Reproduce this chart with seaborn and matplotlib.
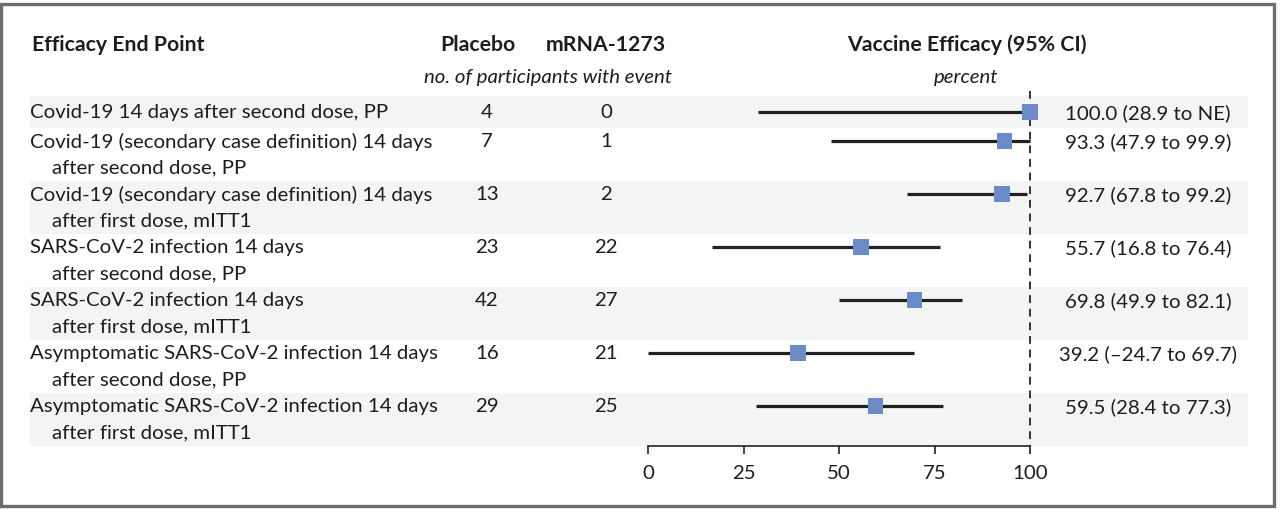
import numpy as np
import pandas as pd
import matplotlib
matplotlib.use("Agg")
import matplotlib.pyplot as plt
import seaborn as sns
from matplotlib.patches import Rectangle

# ---------------- data ----------------
endpoints = [
    "Covid-19 14 days after second dose, PP",
    "Covid-19 (secondary case definition) 14 days\nafter second dose, PP",
    "Covid-19 (secondary case definition) 14 days\nafter first dose, mITT1",
    "SARS-CoV-2 infection 14 days\nafter second dose, PP",
    "SARS-CoV-2 infection 14 days\nafter first dose, mITT1",
    "Asymptomatic SARS-CoV-2 infection 14 days\nafter second dose, PP",
    "Asymptomatic SARS-CoV-2 infection 14 days\nafter first dose, mITT1",
]
placebo_events = [4, 7, 13, 23, 42, 16, 29]
mrna_events = [0, 1, 2, 22, 27, 21, 25]
efficacy = [100.0, 93.3, 92.7, 55.7, 69.8, 39.2, 59.5]
ci_lower = [28.9, 47.9, 67.8, 16.8, 49.9, -24.7, 28.4]
ci_upper = [np.nan, 99.9, 99.2, 76.4, 82.1, 69.7, 77.3]   # NaN = not estimable
x_ticks = [0, 25, 50, 75, 100]

# ---------------- style ----------------
sns.set_style("white")
FONT = ["Lato", "DejaVu Sans"]
plt.rcParams["font.family"] = FONT
TXT = "#1f1c1d"
FS = 14.7
FSB = 15.3

W, H = 1280, 510
fig = plt.figure(figsize=(12.8, 5.1), dpi=100)

X0_PX, X100_PX = 648, 1030
AX_BOTTOM_PX = 447
ppu = (X100_PX - X0_PX) / 100.0
ax = fig.add_axes([0, (H - AX_BOTTOM_PX) / H, 1, AX_BOTTOM_PX / H])
ax.set_xlim(-X0_PX / ppu, (W - X0_PX) / ppu)
ax.set_ylim(AX_BOTTOM_PX, 0)


def px2x(px):
    return (px - X0_PX) / ppu


# ---------------- row layout from line counts ----------------
n_lines = [e.count("\n") + 1 for e in endpoints]
TOP = 97.0
PAD, PER_LINE, LINE_SP = 10.0, 21.5, 26.0
tops, bottoms, first_y = [], [], []
t = TOP
for n in n_lines:
    h = PAD + PER_LINE * n
    tops.append(t)
    bottoms.append(t + h)
    first_y.append(t + h / 2 - (n - 1) * LINE_SP / 2)
    t += h

# stripes
for i, (a, b) in enumerate(zip(tops, bottoms)):
    if i % 2 == 0:
        ax.axhspan(a, b, xmin=30 / W, xmax=1248 / W, color="#f3f4f4", lw=0, zorder=0)

# reference line at 100
ax.vlines(100, 92, AX_BOTTOM_PX, colors="#333333", linestyles=(0, (4, 3)), lw=1.4, zorder=2)

# CI lines
lo = np.clip(np.array(ci_lower, float), 0, 100)
hi = np.clip(np.nan_to_num(np.array(ci_upper, float), nan=100.0), 0, 100)
ax.hlines(first_y, lo, hi, colors="#222222", lw=2.3, zorder=3)

# point estimates
df = pd.DataFrame({"ve": efficacy, "y": first_y})
sns.scatterplot(data=df, x="ve", y="y", marker="s", s=125, color="#6a8bc6",
                edgecolor="none", ax=ax, zorder=4, legend=False)

# axis
for s in ["top", "left", "right"]:
    ax.spines[s].set_visible(False)
ax.spines["bottom"].set_bounds(0, 100)
ax.spines["bottom"].set_color("#222222")
ax.spines["bottom"].set_linewidth(1.2)
ax.set_xticks(x_ticks)
ax.set_xticklabels([str(v) for v in x_ticks])
ax.set_yticks([])
ax.tick_params(axis="x", bottom=True, direction="out", length=6, width=1.2,
               color="#222222", labelsize=FS, labelcolor=TXT, pad=7)
ax.set_xlabel("")
ax.set_ylabel("")
ax.patch.set_alpha(0)

# ---------------- headers ----------------
HY, SY = 45, 78
ax.text(px2x(32), HY, "Efficacy End Point", fontsize=FSB, fontweight="bold", color=TXT, va="center", ha="left")
ax.text(px2x(478), HY, "Placebo", fontsize=FSB, fontweight="bold", color=TXT, va="center", ha="center")
ax.text(px2x(606), HY, "mRNA-1273", fontsize=FSB, fontweight="bold", color=TXT, va="center", ha="center")
ax.text(px2x(548), SY, "no. of participants with event", fontsize=FS, fontstyle="italic", color=TXT, va="center", ha="center")
ax.text(px2x(967), HY, "Vaccine Efficacy (95% CI)", fontsize=FSB, fontweight="bold", color=TXT, va="center", ha="center")
ax.text(px2x(966), SY, "percent", fontsize=FS, fontstyle="italic", color=TXT, va="center", ha="center")


def fmt(v):
    return ("\u2013" + f"{abs(v):.1f}") if v < 0 else f"{v:.1f}"


for i, lab in enumerate(endpoints):
    y = first_y[i]
    lines = lab.split("\n")
    ax.text(px2x(30), y, lines[0], fontsize=FS, color=TXT, va="center", ha="left")
    for k, ln in enumerate(lines[1:], start=1):
        ax.text(px2x(52), y + k * LINE_SP, ln, fontsize=FS, color=TXT, va="center", ha="left")
    ax.text(px2x(487), y, str(placebo_events[i]), fontsize=FS, color=TXT, va="center", ha="center")
    ax.text(px2x(606), y, str(mrna_events[i]), fontsize=FS, color=TXT, va="center", ha="center")
    up = "NE" if np.isnan(ci_upper[i]) else fmt(ci_upper[i])
    ax.text(px2x(1148), y, f"{fmt(efficacy[i])} ({fmt(ci_lower[i])} to {up})",
            fontsize=FS, color=TXT, va="center", ha="center")

# frame around figure
fig.add_artist(Rectangle((1.2 / W, 3.0 / H), (1274 - 1.2) / W, (507 - 4.5) / H,
                         transform=fig.transFigure, fill=False, edgecolor="#6e6e6e", lw=2.4))

fig.savefig("out.png", dpi=100, facecolor="white")
